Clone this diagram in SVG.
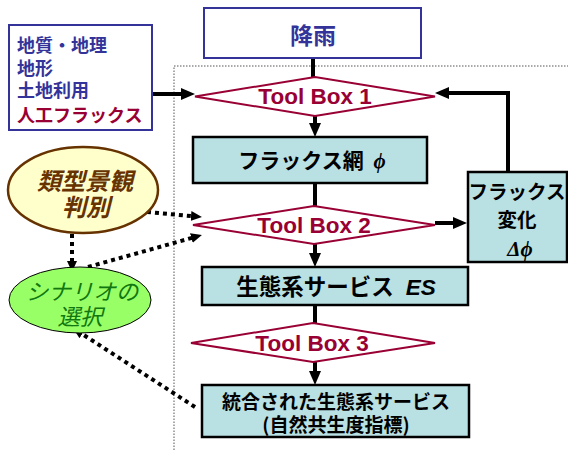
<svg xmlns="http://www.w3.org/2000/svg" width="568" height="450" viewBox="0 0 568 450">
<style>
.jp{font-family:"Noto Sans CJK JP","Liberation Sans",sans-serif;font-weight:bold;}
.tb{font-family:"Liberation Sans",Arial,sans-serif;font-weight:bold;font-size:22.5px;fill:#990033;text-anchor:middle;}
.dia{fill:#fff;stroke:#990033;stroke-width:2;}
.box{fill:#B9E0E3;stroke:#000;stroke-width:2.5;}
.bt{fill:#000;text-anchor:middle;}
.sol{fill:none;stroke:#000;stroke-width:4;}
.dot{fill:none;stroke:#000;stroke-width:4;stroke-dasharray:4 4;}
</style>
<defs>
<marker id="ah" markerUnits="userSpaceOnUse" markerWidth="14" markerHeight="12" refX="4" refY="6" orient="auto"><path d="M0,0 L14,6 L0,12 z" fill="#000"/></marker>
<marker id="dh" markerUnits="userSpaceOnUse" markerWidth="11" markerHeight="10" refX="2" refY="5" orient="auto"><path d="M0,0 L11,5 L0,10 z" fill="#000"/></marker>
</defs>
<rect width="568" height="450" fill="#fff"/>
<path d="M174,450 V66 H568" fill="none" stroke="#555" stroke-width="1" stroke-dasharray="1.5 1.5"/>

<g id="connectors">
<line class="sol" x1="313" y1="58" x2="313" y2="77"/>
<line class="sol" x1="152" y1="94" x2="185" y2="94" marker-end="url(#ah)"/>
<line class="sol" x1="315" y1="116" x2="315" y2="127" marker-end="url(#ah)"/>
<line class="sol" x1="315" y1="183" x2="315" y2="206"/>
<line class="sol" x1="315" y1="244" x2="315" y2="257" marker-end="url(#ah)"/>
<line class="sol" x1="315" y1="305" x2="315" y2="323"/>
<line class="sol" x1="315" y1="362" x2="315" y2="375" marker-end="url(#ah)"/>
<line class="sol" x1="435" y1="223" x2="457" y2="223" marker-end="url(#ah)"/>
<path class="sol" d="M508,172 V93 H445" marker-end="url(#ah)"/>
<line class="dot" x1="147" y1="212" x2="193" y2="216.2" marker-end="url(#dh)"/>
<line class="dot" x1="88" y1="267" x2="193.3" y2="237.5" marker-end="url(#dh)"/>
<line class="dot" x1="72" y1="234" x2="72" y2="263" marker-end="url(#dh)"/>
<line class="dot" x1="195" y1="407" x2="80.5" y2="332.9" marker-end="url(#dh)"/>
</g>

<g id="rain">
<rect x="204" y="8" width="217" height="50" fill="#fff" stroke="#333399" stroke-width="2"/>
<text class="jp" x="313" y="44" font-size="23" fill="#333399" text-anchor="middle">降雨</text>
</g>

<g id="inputs">
<rect x="9" y="25" width="143" height="105" fill="#fff" stroke="#333399" stroke-width="2"/>
<text class="jp" font-size="18" fill="#333399"><tspan x="17" y="52">地質・地理</tspan><tspan x="17" y="75">地形</tspan><tspan x="17" y="97">土地利用</tspan><tspan x="17" y="122" fill="#990033">人工フラックス</tspan></text>
</g>

<g id="toolbox1">
<polygon class="dia" points="195,96.5 315,77 435,96.5 315,116"/>
<text class="tb" x="315" y="104">Tool Box 1</text>
</g>

<g id="flux">
<rect class="box" x="193" y="137" width="234" height="46"/>
<text class="jp bt" x="312" y="167.5" font-size="21">フラックス網 <tspan dx="5" font-family="'Liberation Serif',serif" font-style="italic">ϕ</tspan></text>
</g>

<g id="toolbox2">
<polygon class="dia" points="193,225 314,206 435,225 314,244"/>
<text class="tb" x="314" y="233">Tool Box 2</text>
</g>

<g id="fluxchange">
<rect class="box" x="468" y="172" width="99" height="90"/>
<text class="jp bt" font-size="19.5"><tspan x="517" y="199">フラックス</tspan><tspan x="517" y="227">変化</tspan><tspan x="520" y="256" font-family="'Liberation Serif',serif" font-style="italic" font-size="21">Δϕ</tspan></text>
</g>

<g id="es">
<rect class="box" x="202" y="267" width="266" height="38"/>
<text class="jp bt" x="336" y="294.5" font-size="22.5">生態系サービス <tspan dx="7" font-family="'Liberation Sans',sans-serif" font-style="italic">ES</tspan></text>
</g>

<g id="toolbox3">
<polygon class="dia" points="191,343 313,323 435,343 313,362"/>
<text class="tb" x="312" y="351">Tool Box 3</text>
</g>

<g id="integrated">
<rect class="box" x="202" y="385" width="267" height="52"/>
<text class="jp bt" font-size="19"><tspan x="336" y="408.5">統合された生態系サービス</tspan><tspan x="336" y="431.5">(自然共生度指標)</tspan></text>
</g>

<g id="landscape">
<ellipse cx="83" cy="190" rx="75" ry="43" fill="#FFFFCC" stroke="#663300" stroke-width="2.5"/>
<text class="jp" font-size="24" fill="#663300" font-style="italic" text-anchor="middle"><tspan x="85" y="190">類型景観</tspan><tspan x="86" y="216">判別</tspan></text>
</g>

<g id="scenario">
<ellipse cx="80" cy="300" rx="71" ry="33" fill="#99FF66" stroke="#000" stroke-width="1"/>
<text font-family="'Noto Sans CJK JP',sans-serif" font-size="22.5" fill="#117711" font-style="italic" text-anchor="middle"><tspan x="82" y="300">シナリオの</tspan><tspan x="80" y="325">選択</tspan></text>
</g>
</svg>
